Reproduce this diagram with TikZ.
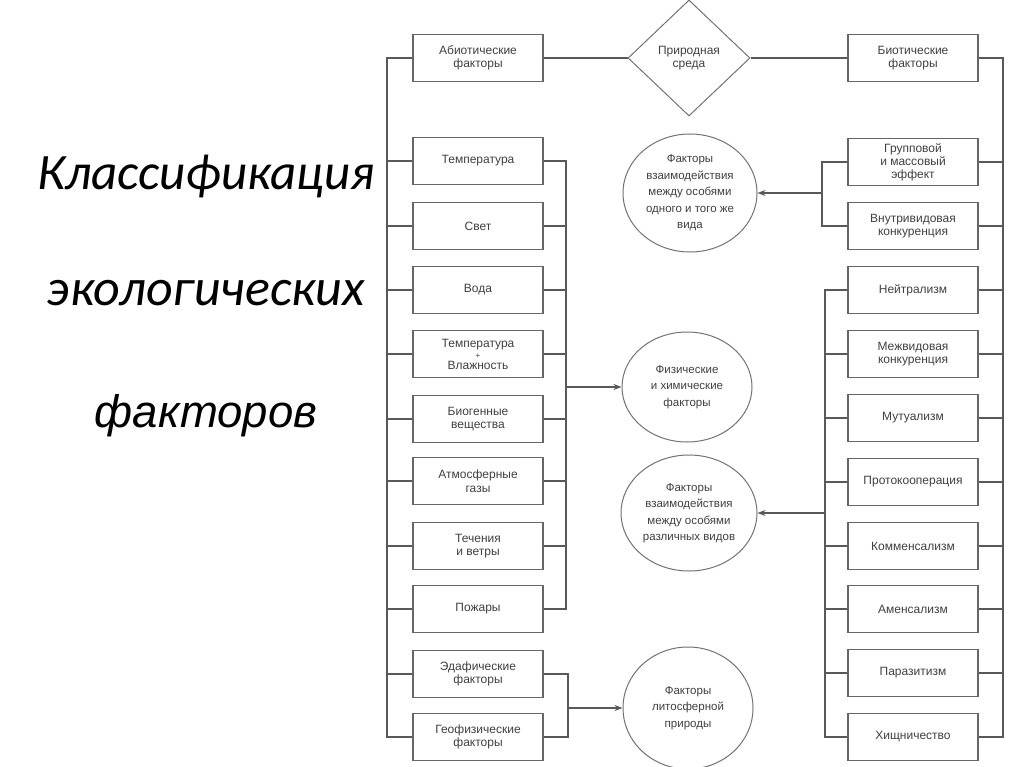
\documentclass[tikz,border=0pt]{standalone}
\usepackage{fontspec}
\setmainfont{Liberation Sans}
\newfontfamily\calib{Carlito}
\newfontfamily\arialf{Liberation Sans}
\usetikzlibrary{shapes.geometric,arrows.meta}
\begin{document}
\begin{tikzpicture}[x=1pt,y=-1pt,
  box/.style={draw=black!60, line width=1.3pt, minimum width=130pt, minimum height=47pt,
    inner sep=1pt, align=center, font=\fontsize{12}{13.5}\selectfont, text=black!75},
  oval/.style={draw=black!55, line width=1pt, ellipse, inner sep=0pt, align=center,
    font=\fontsize{11.5}{16.5}\selectfont, text=black!75},
  conn/.style={draw=black!65, line width=1.3pt},
  arr/.style={conn, -{Stealth[length=8pt,width=6pt]}},
  ttl/.style={anchor=base, text=black}
]
\useasboundingbox (0,0) rectangle (1024,767);
\fill[white] (0,0) rectangle (1024,767);

% titles
\node[ttl, font=\calib\itshape\fontsize{51}{60}\selectfont] (t1) at (206,190) {Классификация};
\node[ttl, font=\calib\itshape\fontsize{52}{60}\selectfont] (t2) at (206,305) {экологических};
\node[ttl, font=\arialf\itshape\fontsize{45.5}{50}\selectfont] (t3) at (206,427) {факторов};

% left column
\node[box] (abio) at (478,58) {Абиотические\\факторы};
\node[box] (temp) at (478,161) {Температура};
\node[box] (light) at (478,226) {Свет};
\node[box] (water) at (478,290) {Вода};
\node[box, font=\fontsize{12}{11}\selectfont] (tw) at (478,354) {Температура\\{\fontsize{8}{8}\selectfont +}\\Влажность};
\node[box] (biog) at (478,419) {Биогенные\\вещества};
\node[box] (atm) at (478,481) {Атмосферные\\газы};
\node[box] (flow) at (478,546) {Течения\\и ветры};
\node[box] (fire) at (478,609) {Пожары};
\node[box] (eda) at (478,674) {Эдафические\\факторы};
\node[box] (geo) at (478,737) {Геофизические\\факторы};

% right column
\node[box] (bio) at (913,58) {Биотические\\факторы};
\node[box, font=\fontsize{12}{13}\selectfont] (grp) at (913,162) {Групповой\\и массовый\\эффект};
\node[box] (intra) at (913,226) {Внутривидовая\\конкуренция};
\node[box] (neut) at (913,290) {Нейтрализм};
\node[box] (inter) at (913,354) {Межвидовая\\конкуренция};
\node[box] (mut) at (913,418) {Мутуализм};
\node[box] (proto) at (913,482) {Протокооперация};
\node[box] (comm) at (913,546) {Комменсализм};
\node[box] (amen) at (913,609) {Аменсализм};
\node[box] (para) at (913,673) {Паразитизм};
\node[box] (pred) at (913,737) {Хищничество};

% centre
\node[draw=black!55, line width=1pt, diamond, minimum width=122pt, minimum height=116pt,
  inner sep=0pt, align=center, font=\fontsize{12}{13.5}\selectfont, text=black!75] (env) at (689,58) {Природная\\среда};
\node[oval, minimum width=134pt, minimum height=118pt] (e1) at (690,193) {Факторы\\взаимодействия\\между особями\\одного и того же\\вида};
\node[oval, minimum width=130pt, minimum height=110pt] (e2) at (687,387) {Физические\\и химические\\факторы};
\node[oval, minimum width=136pt, minimum height=116pt] (e3) at (689,513) {Факторы\\взаимодействия\\между особями\\различных видов};
\node[oval, minimum width=130pt, minimum height=122pt] (e4) at (688,708) {Факторы\\литосферной\\природы};

% bracket coordinates
\coordinate (LT) at (387,0);
\coordinate (LI) at (566,0);
\coordinate (LB) at (568,0);
\coordinate (RT) at (1003,0);
\coordinate (RI1) at (822,0);
\coordinate (RI2) at (825,0);

% top line
\draw[conn] (abio.east) -- (env.west);
\draw[conn] (env.east) -- (bio.west);

% left trunk
\draw[conn] (abio.west) -- (abio.west -| LT) -- (geo.west -| LT) -- (geo.west);
\foreach \n in {temp,light,water,tw,biog,atm,flow,fire,eda}
  \draw[conn] (\n.west) -- (\n.west -| LT);

% left inner bracket
\draw[conn] (temp.east) -- (temp.east -| LI) -- (fire.east -| LI) -- (fire.east);
\foreach \n in {light,water,tw,biog,atm,flow}
  \draw[conn] (\n.east) -- (\n.east -| LI);
\draw[arr] (e2.west -| LI) -- (e2.west);

% bottom bracket
\draw[conn] (eda.east) -- (eda.east -| LB) -- (geo.east -| LB) -- (geo.east);
\draw[arr] (e4.west -| LB) -- (e4.west);

% right trunk
\draw[conn] (bio.east) -- (bio.east -| RT) -- (pred.east -| RT) -- (pred.east);
\foreach \n in {grp,intra,neut,inter,mut,proto,comm,amen,para}
  \draw[conn] (\n.east) -- (\n.east -| RT);

% right inner brackets
\draw[conn] (grp.west) -- (grp.west -| RI1) -- (intra.west -| RI1) -- (intra.west);
\draw[arr] (e1.east -| RI1) -- (e1.east);
\draw[conn] (neut.west) -- (neut.west -| RI2) -- (pred.west -| RI2) -- (pred.west);
\foreach \n in {inter,mut,proto,comm,amen,para}
  \draw[conn] (\n.west) -- (\n.west -| RI2);
\draw[arr] (e3.east -| RI2) -- (e3.east);
\end{tikzpicture}
\end{document}
